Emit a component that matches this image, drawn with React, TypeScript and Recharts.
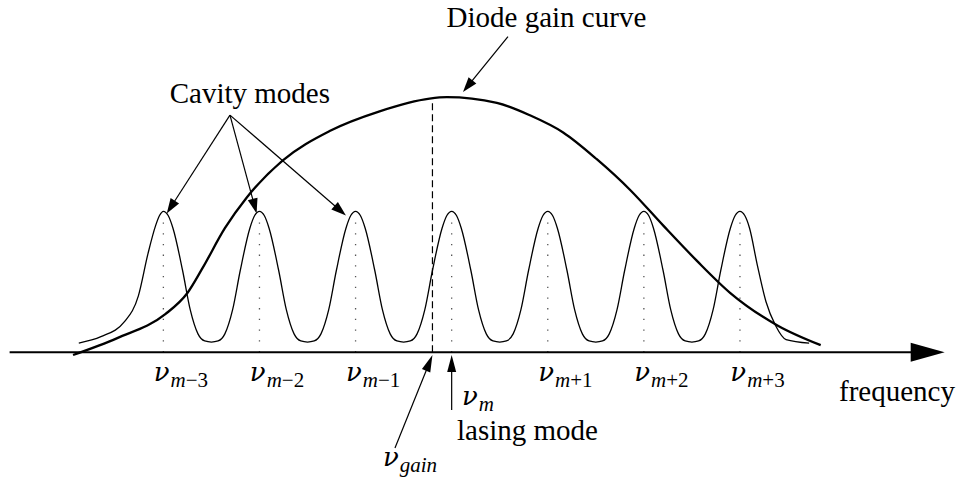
import React from "react";
import { LineChart, Line, XAxis, YAxis, ReferenceLine, ReferenceDot } from "recharts";

// Frequency in units of the cavity mode spacing (0 = lasing mode m),
// level in arbitrary gain / intensity units (0 = frequency axis).
const FREQ_DOMAIN: [number, number] = [-4.7, 5.3];
const LEVEL_DOMAIN: [number, number] = [-0.9, 2.5];

const modeCentres = [-3, -2, -1, 0, 1, 2, 3];
const modeSubscripts = ["m−3", "m−2", "m−1", "m", "m+1", "m+2", "m+3"];
const gainPeakFreq = -0.2;

// Cavity (Fabry–Perot) mode comb
const cavityFreq = [
  -3.88, -3.65, -3.4, -3.26, -3.16, -3.08, -3.04, -3.0, -2.95, -2.9, -2.8, -2.72, -2.64, -2.57, -2.5,
  -2.43, -2.36, -2.28, -2.2, -2.1, -2.05, -2.0, -1.95, -1.9, -1.8, -1.72, -1.64, -1.57, -1.5,
  -1.43, -1.36, -1.28, -1.2, -1.1, -1.05, -1.0, -0.95, -0.9, -0.8, -0.72, -0.64, -0.57, -0.5,
  -0.43, -0.36, -0.28, -0.2, -0.1, -0.05, 0.0, 0.05, 0.1, 0.2, 0.28, 0.36, 0.43, 0.5,
  0.57, 0.64, 0.72, 0.8, 0.9, 0.95, 1.0, 1.05, 1.1, 1.2, 1.28, 1.36, 1.43, 1.5,
  1.57, 1.64, 1.72, 1.8, 1.9, 1.95, 2.0, 2.05, 2.1, 2.2, 2.28, 2.36, 2.43, 2.5,
  2.57, 2.64, 2.72, 2.8, 2.9, 2.95, 3.0, 3.05, 3.1, 3.18, 3.27, 3.37, 3.48, 3.72,
];
const cavityLevel = [
  0.065, 0.11, 0.22, 0.4, 0.7, 0.9, 0.97, 1.0, 0.97, 0.88, 0.58, 0.3, 0.13, 0.08, 0.072,
  0.08, 0.13, 0.3, 0.58, 0.88, 0.97, 1.0, 0.97, 0.88, 0.58, 0.3, 0.13, 0.08, 0.072,
  0.08, 0.13, 0.3, 0.58, 0.88, 0.97, 1.0, 0.97, 0.88, 0.58, 0.3, 0.13, 0.08, 0.072,
  0.08, 0.13, 0.3, 0.58, 0.88, 0.97, 1.0, 0.97, 0.88, 0.58, 0.3, 0.13, 0.08, 0.072,
  0.08, 0.13, 0.3, 0.58, 0.88, 0.97, 1.0, 0.97, 0.88, 0.58, 0.3, 0.13, 0.08, 0.072,
  0.08, 0.13, 0.3, 0.58, 0.88, 0.97, 1.0, 0.97, 0.88, 0.58, 0.3, 0.13, 0.08, 0.072,
  0.08, 0.13, 0.3, 0.58, 0.88, 0.97, 1.0, 0.97, 0.88, 0.62, 0.36, 0.19, 0.09, 0.065,
];

// Diode gain curve
const gainFreq = [
  -3.94, -3.48, -2.98, -2.75, -2.59, -2.36, -2.13, -1.76, -1.27, -0.75, -0.23, -0.05,
  0.47, 0.82, 1.16, 1.51, 1.86, 2.2, 2.55, 2.9, 3.39, 3.84,
];
const gainLevel = [
  -0.02, 0.1, 0.27, 0.42, 0.6, 0.88, 1.1, 1.36, 1.57, 1.71, 1.8, 1.81,
  1.77, 1.68, 1.56, 1.37, 1.15, 0.9, 0.65, 0.42, 0.19, 0.05,
];

const cavityData = cavityFreq.map((x, i) => ({ x, y: cavityLevel[i] }));
const gainData = gainFreq.map((x, i) => ({ x, y: gainLevel[i] }));

const SERIF = '"Liberation Serif", "Times New Roman", serif';
const GREEK = '"DejaVu Serif", "Liberation Serif", serif';
const TEXT_SIZE = 29;
const NU_SIZE = 26;
const SUB_SIZE = 21;

type Pt = { x: number; y: number };

// Line ending in a filled arrowhead at its second point.
const arrowShape = (headLen: number, headHalf: number, width: number) => (p: any) => {
  const x1 = Number(p.x1), y1 = Number(p.y1), x2 = Number(p.x2), y2 = Number(p.y2);
  const dx = x2 - x1, dy = y2 - y1;
  const len = Math.hypot(dx, dy) || 1;
  const ux = dx / len, uy = dy / len;
  const bx = x2 - ux * headLen, by = y2 - uy * headLen;
  const nx = -uy, ny = ux;
  return (
    <g>
      <line x1={x1} y1={y1} x2={bx + ux * 2} y2={by + uy * 2} stroke="#000" strokeWidth={width} />
      <polygon
        points={`${x2},${y2} ${bx + nx * headHalf},${by + ny * headHalf} ${bx - nx * headHalf},${by - ny * headHalf}`}
        fill="#000"
      />
    </g>
  );
};

const Arrow = (from: Pt, to: Pt, key: string, headLen = 15, headHalf = 5, width = 1.2) => (
  <ReferenceLine
    key={key}
    segment={[from, to]}
    stroke="#000"
    shape={arrowShape(headLen, headHalf, width)}
  />
);

const Note = (at: Pt, text: string, key: string, anchor: "start" | "middle" | "end" = "middle") => (
  <ReferenceDot
    key={key}
    x={at.x}
    y={at.y}
    r={0}
    shape={(p: any) => (
      <text x={p.cx} y={p.cy} textAnchor={anchor} style={{ fontFamily: SERIF }} fontSize={TEXT_SIZE} fill="#000">
        {text}
      </text>
    )}
  />
);

const Nu = (at: Pt, sub: string, key: string) => {
  const italicPart = sub.match(/^[a-z]+/)?.[0] ?? "";
  const rest = sub.slice(italicPart.length);
  return (
    <ReferenceDot
      key={key}
      x={at.x}
      y={at.y}
      r={0}
      shape={(p: any) => (
        <text x={p.cx} y={p.cy} style={{ fontFamily: SERIF }} fill="#000">
          <tspan fontSize={NU_SIZE} fontStyle="italic" style={{ fontFamily: GREEK }}>ν</tspan>
          <tspan fontSize={SUB_SIZE} dy={6} dx={1} fontStyle="italic">{italicPart}</tspan>
          {rest && <tspan fontSize={SUB_SIZE}>{rest}</tspan>}
        </text>
      )}
    />
  );
};

export default function App() {
  return (
    <div style={{ position: "absolute", left: 0, top: 0, background: "#fff" }}>
      <LineChart width={961} height={479} margin={{ top: 0, right: 0, bottom: 0, left: 0 }}>
        <XAxis type="number" dataKey="x" domain={FREQ_DOMAIN} hide allowDataOverflow />
        <YAxis type="number" dataKey="y" domain={LEVEL_DOMAIN} hide allowDataOverflow />

        {/* mode centre markers */}
        {modeCentres.map((c) => (
          <ReferenceLine
            key={`mark-${c}`}
            segment={[{ x: c, y: 0 }, { x: c, y: 0.94 }]}
            stroke="#555"
            strokeWidth={1.3}
            strokeDasharray="1.3 9.4"
          />
        ))}

        {/* gain peak frequency */}
        <ReferenceLine
          segment={[{ x: gainPeakFreq, y: 0 }, { x: gainPeakFreq, y: 1.77 }]}
          stroke="#000"
          strokeWidth={1.2}
          strokeDasharray="7 4"
        />

        <Line
          data={cavityData}
          dataKey="y"
          type="monotone"
          stroke="#000"
          strokeWidth={1.3}
          dot={false}
          activeDot={false}
          isAnimationActive={false}
        />
        <Line
          data={gainData}
          dataKey="y"
          type="monotone"
          stroke="#000"
          strokeWidth={2.3}
          dot={false}
          activeDot={false}
          isAnimationActive={false}
        />

        {/* frequency axis */}
        {Arrow({ x: -4.6, y: 0 }, { x: 5.13, y: 0 }, "axis", 34, 9.5, 2)}

        {/* annotations */}
        {Arrow({ x: -2.307, y: 1.683 }, { x: -2.965, y: 0.985 }, "cav-1")}
        {Arrow({ x: -2.307, y: 1.683 }, { x: -2.03, y: 0.985 }, "cav-2")}
        {Arrow({ x: -2.307, y: 1.683 }, { x: -1.1, y: 0.97 }, "cav-3")}
        {Arrow({ x: 0.586, y: 2.24 }, { x: 0.118, y: 1.847 }, "gain")}
        {Arrow({ x: -0.59, y: -0.68 }, { x: gainPeakFreq, y: -0.02 }, "nu-gain", 17, 4.5)}
        {Arrow({ x: 0, y: -0.41 }, { x: 0, y: -0.02 }, "nu-m", 17, 4.5)}

        {Note({ x: -2.1, y: 1.768 }, "Cavity modes", "t-cav")}
        {Note({ x: 0.986, y: 2.308 }, "Diode gain curve", "t-gain")}
        {Note({ x: 4.634, y: -0.349 }, "frequency", "t-freq")}
        {Note({ x: 0.789, y: -0.623 }, "lasing mode", "t-lasing")}

        {modeCentres.map((c, i) =>
          c === 0
            ? Nu({ x: 0.107, y: -0.376 }, modeSubscripts[i], `nu-${c}`)
            : Nu({ x: c - 0.1, y: -0.205 }, modeSubscripts[i], `nu-${c}`)
        )}
        {Nu({ x: -0.715, y: -0.809 }, "gain", "nu-gain-label")}
      </LineChart>
    </div>
  );
}
